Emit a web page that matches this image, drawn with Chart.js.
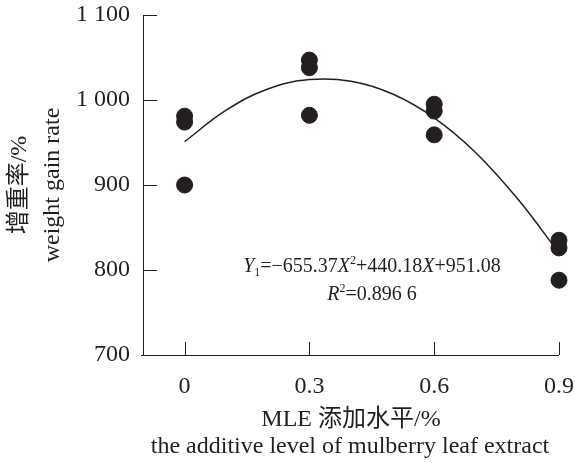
<!DOCTYPE html>
<html>
<head>
<meta charset="utf-8">
<script src="https://cdn.jsdelivr.net/npm/chart.js@4.4.1/dist/chart.umd.min.js"></script>
<style>
html, body { margin: 0; padding: 0; background: #fff; }
</style>
</head>
<body>
<canvas id="chart" width="575" height="463"></canvas>
<script>
// MLE additive level (%), three replicates of weight gain rate (%)
const levels = [0, 0.3, 0.6, 0.9];
const rep1 = [981, 1047, 995, 835];
const rep2 = [974, 1038, 987, 826];
const rep3 = [900, 982, 959, 788];

// fitted curve
const fitX = [0, 0.1, 0.2, 0.3, 0.4, 0.5, 0.6, 0.7, 0.8, 0.9];
const fitY = [951, 988, 1013, 1024, 1022, 1007, 979, 938, 884, 820];

const yTicks = [700, 800, 900, 1000, 1100];

const ink = '#231f20';
const serif = '"Liberation Serif", "Times New Roman", serif';
const cjk = '"Liberation Serif", "Noto Sans CJK SC", serif';
const fs = 24;

const points = [];
[rep1, rep2, rep3].forEach(rep => {
    rep.forEach((v, i) => points.push({ x: levels[i], y: v }));
});
const curve = fitX.map((x, i) => ({ x: x, y: fitY[i] }));

// draws a line of text made of runs (italic / sub / sup)
function drawRuns(ctx, runs, cx, cy, size) {
    const small = Math.round(size * 0.6);
    const fontOf = r => (r.it ? 'italic ' : '') + (r.sub || r.sup ? small : size) + 'px ' + serif;
    let total = 0;
    runs.forEach(r => { ctx.font = fontOf(r); total += ctx.measureText(r.t).width; });
    let x = cx - total / 2;
    ctx.textAlign = 'left';
    ctx.textBaseline = 'alphabetic';
    runs.forEach(r => {
        ctx.font = fontOf(r);
        let y = cy + size * 0.35;
        if (r.sub) y += size * 0.2;
        if (r.sup) y -= size * 0.38;
        ctx.fillText(r.t, x, y);
        x += ctx.measureText(r.t).width;
    });
}

const decor = {
    id: 'decor',
    afterDatasetsDraw(chart) {
        const ctx = chart.ctx;
        const xs = chart.scales.x, ys = chart.scales.y;
        const a = chart.chartArea;
        ctx.save();
        ctx.strokeStyle = ink;
        ctx.lineWidth = 1;
        // axis lines
        ctx.beginPath();
        ctx.moveTo(a.left + 0.5, a.top);
        ctx.lineTo(a.left + 0.5, a.bottom + 0.5);
        ctx.moveTo(a.left - 2, a.bottom + 0.5);
        ctx.lineTo(a.right, a.bottom + 0.5);
        // inward ticks
        yTicks.forEach(v => {
            const y = Math.round(ys.getPixelForValue(v)) + 0.5;
            ctx.moveTo(a.left, y);
            ctx.lineTo(a.left + 14, y);
        });
        levels.forEach(v => {
            const x = Math.round(xs.getPixelForValue(v)) + 0.5;
            ctx.moveTo(x, a.bottom);
            ctx.lineTo(x, a.bottom - 13);
        });
        ctx.stroke();

        ctx.fillStyle = ink;
        // x title
        ctx.textAlign = 'center';
        ctx.textBaseline = 'middle';
        ctx.font = fs + 'px ' + cjk;
        ctx.fillText('MLE 添加水平/%', 351, 420);
        ctx.font = fs + 'px ' + serif;
        ctx.fillText('the additive level of mulberry leaf extract', 350, 447);

        // y title
        ctx.save();
        ctx.translate(20, 185);
        ctx.rotate(-Math.PI / 2);
        ctx.font = fs + 'px ' + cjk;
        ctx.fillText('增重率/%', 0, 0);
        ctx.restore();
        ctx.save();
        ctx.translate(53, 185);
        ctx.rotate(-Math.PI / 2);
        ctx.font = fs + 'px ' + serif;
        ctx.fillText('weight gain rate', 0, 0);
        ctx.restore();

        // equation
        drawRuns(ctx, [
            { t: 'Y', it: true }, { t: '1', sub: true }, { t: '=\u2212655.37' },
            { t: 'X', it: true }, { t: '2', sup: true }, { t: '+440.18' },
            { t: 'X', it: true }, { t: '+951.08' }
        ], 372, 265, 20);
        drawRuns(ctx, [
            { t: 'R', it: true }, { t: '2', sup: true }, { t: '=0.896 6' }
        ], 372, 293, 20);
        ctx.restore();
    }
};

new Chart(document.getElementById('chart'), {
    type: 'scatter',
    data: {
        datasets: [{
            data: points,
            backgroundColor: ink,
            borderColor: ink,
            pointRadius: 8,
            pointHoverRadius: 8,
            clip: false
        }, {
            data: curve,
            showLine: true,
            tension: 0.4,
            borderColor: ink,
            borderWidth: 1.5,
            pointRadius: 0,
            pointHoverRadius: 0,
            clip: false
        }]
    },
    options: {
        responsive: false,
        animation: false,
        devicePixelRatio: 1,
        layout: { padding: { top: 15, right: 16, left: 0, bottom: 0 } },
        plugins: { legend: { display: false }, tooltip: { enabled: false } },
        scales: {
            x: {
                type: 'linear',
                min: -0.1,
                max: 0.9,
                afterBuildTicks: s => { s.ticks = levels.map(v => ({ value: v })); },
                afterFit: s => { s.height = 108; s.paddingLeft = 0; s.paddingRight = 0; },
                grid: { display: false, drawTicks: false },
                border: { display: false },
                ticks: {
                    color: ink,
                    padding: 17,
                    font: { family: serif, size: fs },
                    callback: v => String(v)
                }
            },
            y: {
                min: 700,
                max: 1100,
                afterBuildTicks: s => { s.ticks = yTicks.map(v => ({ value: v })); },
                afterFit: s => { s.width = 143; s.paddingTop = 0; s.paddingBottom = 0; },
                grid: { display: false, drawTicks: false },
                border: { display: false },
                ticks: {
                    color: ink,
                    padding: 13,
                    font: { family: serif, size: fs },
                    callback: v => String(v).replace(/\B(?=(\d{3})+(?!\d))/g, ' ')
                }
            }
        }
    },
    plugins: [decor]
});
</script>
</body>
</html>
